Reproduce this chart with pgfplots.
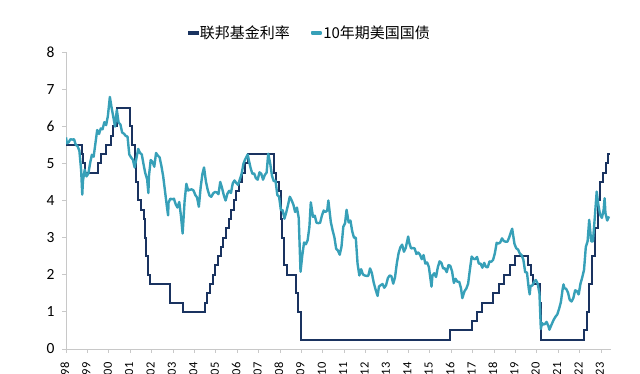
\documentclass[border=0pt]{standalone}
\usepackage{pgfplots}
\pgfplotsset{compat=1.18}
\usepackage{fontspec}
\setmainfont{Carlito}
\newfontfamily\cjk{Noto Sans CJK SC}
\definecolor{fedc}{HTML}{1A3360}
\definecolor{tsyc}{HTML}{37A0B8}
\definecolor{axc}{HTML}{C8C8C8}
\pgfplotstableread{
x y
1998.000 5.50
1998.745 5.25
1998.789 5.00
1998.877 4.75
1999.496 5.00
1999.645 5.25
1999.874 5.50
2000.088 5.75
2000.219 6.00
2000.373 6.50
2001.005 6.00
2001.083 5.50
2001.214 5.00
2001.293 4.50
2001.370 4.00
2001.488 3.75
2001.638 3.50
2001.712 3.00
2001.751 2.50
2001.849 2.00
2001.945 1.75
2002.849 1.25
2003.482 1.00
2004.496 1.25
2004.608 1.50
2004.721 1.75
2004.860 2.00
2004.951 2.25
2005.088 2.50
2005.222 2.75
2005.334 3.00
2005.493 3.25
2005.605 3.50
2005.718 3.75
2005.833 4.00
2005.948 4.25
2006.082 4.50
2006.236 4.75
2006.356 5.00
2006.493 5.25
2007.712 4.75
2007.830 4.50
2007.945 4.25
2008.058 3.50
2008.080 3.00
2008.210 2.25
2008.330 2.00
2008.770 1.50
2008.827 1.00
2008.959 0.25
2015.959 0.50
2016.951 0.75
2017.203 1.00
2017.452 1.25
2017.948 1.50
2018.219 1.75
2018.449 2.00
2018.737 2.25
2018.967 2.50
2019.581 2.25
2019.715 2.00
2019.830 1.75
2020.170 1.25
2020.205 0.25
2022.205 0.50
2022.340 1.00
2022.455 1.75
2022.570 2.50
2022.723 3.25
2022.838 4.00
2022.953 4.50
2023.085 4.75
2023.222 5.00
2023.337 5.25
2023.400 5.25
}\fed
\pgfplotstableread{
x y
1998.000 5.70
1998.042 5.54
1998.125 5.57
1998.208 5.65
1998.292 5.64
1998.375 5.65
1998.458 5.50
1998.542 5.46
1998.625 5.34
1998.708 4.81
1998.760 4.16
1998.792 4.53
1998.875 4.83
1998.958 4.65
1999.042 4.72
1999.125 5.00
1999.208 5.23
1999.292 5.18
1999.375 5.54
1999.458 5.90
1999.542 5.79
1999.625 5.94
1999.708 5.92
1999.792 6.11
1999.875 6.03
1999.958 6.28
2000.050 6.79
2000.125 6.52
2000.208 6.26
2000.292 5.99
2000.375 6.44
2000.458 6.10
2000.542 6.05
2000.625 5.83
2000.708 5.80
2000.792 5.74
2000.875 5.72
2000.958 5.24
2001.042 5.16
2001.125 5.10
2001.208 4.89
2001.292 5.14
2001.375 5.39
2001.458 5.28
2001.542 5.24
2001.625 4.97
2001.708 4.73
2001.792 4.57
2001.850 4.20
2001.875 4.65
2001.958 5.09
2002.042 5.04
2002.125 4.91
2002.208 5.28
2002.292 5.21
2002.375 5.16
2002.458 4.93
2002.542 4.65
2002.625 4.26
2002.708 3.87
2002.770 3.60
2002.792 3.94
2002.875 4.05
2002.958 4.03
2003.042 4.05
2003.125 3.90
2003.208 3.81
2003.292 3.96
2003.375 3.57
2003.450 3.11
2003.542 3.98
2003.625 4.45
2003.708 4.27
2003.792 4.29
2003.875 4.30
2003.958 4.27
2004.042 4.15
2004.125 4.08
2004.208 3.83
2004.292 4.35
2004.375 4.72
2004.450 4.89
2004.542 4.50
2004.625 4.28
2004.708 4.13
2004.792 4.10
2004.875 4.19
2004.958 4.23
2005.042 4.22
2005.125 4.17
2005.208 4.50
2005.292 4.34
2005.375 4.14
2005.458 4.00
2005.542 4.18
2005.625 4.26
2005.708 4.20
2005.792 4.46
2005.875 4.54
2005.958 4.47
2006.042 4.42
2006.125 4.57
2006.208 4.72
2006.292 4.99
2006.375 5.11
2006.490 5.24
2006.542 5.09
2006.625 4.88
2006.708 4.72
2006.792 4.73
2006.875 4.60
2006.958 4.56
2007.042 4.76
2007.125 4.72
2007.208 4.56
2007.292 4.69
2007.375 4.75
2007.450 5.26
2007.542 5.00
2007.625 4.67
2007.708 4.52
2007.792 4.53
2007.875 4.15
2007.958 4.10
2008.042 3.74
2008.125 3.74
2008.208 3.51
2008.292 3.68
2008.375 3.88
2008.458 4.10
2008.542 4.01
2008.625 3.89
2008.708 3.69
2008.792 3.81
2008.875 3.53
2008.960 2.08
2009.042 2.52
2009.125 2.87
2009.208 2.82
2009.292 2.93
2009.375 3.29
2009.440 3.95
2009.542 3.56
2009.625 3.59
2009.708 3.40
2009.792 3.39
2009.875 3.40
2009.958 3.59
2010.042 3.73
2010.125 3.69
2010.208 3.73
2010.260 4.00
2010.375 3.42
2010.458 3.20
2010.542 3.01
2010.625 2.70
2010.708 2.65
2010.792 2.54
2010.875 2.76
2010.958 3.29
2011.042 3.39
2011.110 3.75
2011.208 3.41
2011.292 3.46
2011.375 3.17
2011.458 3.00
2011.542 3.00
2011.625 2.30
2011.708 1.98
2011.792 2.15
2011.875 2.01
2011.958 1.98
2012.042 1.97
2012.125 1.97
2012.208 2.17
2012.292 2.05
2012.375 1.80
2012.458 1.62
2012.560 1.43
2012.625 1.68
2012.708 1.72
2012.792 1.75
2012.875 1.65
2012.958 1.72
2013.042 1.91
2013.125 1.98
2013.208 1.96
2013.292 1.76
2013.375 1.93
2013.458 2.30
2013.542 2.58
2013.625 2.74
2013.708 2.81
2013.792 2.62
2013.875 2.72
2013.990 3.03
2014.042 2.86
2014.125 2.71
2014.208 2.72
2014.292 2.71
2014.375 2.56
2014.458 2.60
2014.542 2.54
2014.625 2.42
2014.708 2.53
2014.792 2.30
2014.875 2.33
2014.958 2.21
2015.080 1.68
2015.125 1.98
2015.208 2.04
2015.292 1.94
2015.375 2.20
2015.458 2.36
2015.542 2.32
2015.625 2.17
2015.708 2.17
2015.792 2.07
2015.875 2.26
2015.958 2.24
2016.042 2.09
2016.125 1.78
2016.208 1.89
2016.292 1.81
2016.375 1.81
2016.458 1.64
2016.520 1.37
2016.625 1.56
2016.708 1.63
2016.792 1.76
2016.875 2.14
2016.958 2.49
2017.042 2.43
2017.125 2.42
2017.208 2.48
2017.292 2.30
2017.375 2.30
2017.458 2.19
2017.542 2.32
2017.625 2.21
2017.708 2.20
2017.792 2.36
2017.875 2.35
2017.958 2.40
2018.042 2.58
2018.125 2.86
2018.208 2.84
2018.292 2.87
2018.375 2.98
2018.458 2.91
2018.542 2.89
2018.625 2.89
2018.708 3.00
2018.792 3.15
2018.850 3.24
2018.958 2.83
2019.042 2.71
2019.125 2.68
2019.208 2.57
2019.292 2.53
2019.375 2.40
2019.458 2.07
2019.542 2.06
2019.625 1.63
2019.670 1.47
2019.708 1.70
2019.792 1.71
2019.875 1.81
2019.958 1.86
2020.042 1.76
2020.125 1.50
2020.190 0.54
2020.250 0.70
2020.292 0.66
2020.375 0.67
2020.458 0.73
2020.542 0.62
2020.590 0.52
2020.708 0.68
2020.792 0.79
2020.875 0.87
2020.958 0.93
2021.042 1.08
2021.125 1.26
2021.208 1.61
2021.250 1.74
2021.292 1.64
2021.375 1.62
2021.458 1.52
2021.542 1.32
2021.625 1.28
2021.708 1.37
2021.792 1.58
2021.875 1.56
2021.958 1.47
2022.042 1.76
2022.125 1.93
2022.208 2.13
2022.292 2.75
2022.375 2.90
2022.450 3.48
2022.542 2.90
2022.625 2.90
2022.708 3.52
2022.800 4.24
2022.875 3.89
2022.958 3.62
2023.042 3.53
2023.125 3.75
2023.170 4.06
2023.208 3.66
2023.292 3.46
2023.375 3.57
}\tsy
\begin{document}
\begin{tikzpicture}[x=1pt,y=1pt]
\useasboundingbox (0,0) rectangle (640,374);
\begin{axis}[
  at={(66pt,25pt)}, anchor=south west,
  scale only axis, width=544.6pt, height=297pt,
  xmin=1998, xmax=2023.45, ymin=0, ymax=8,
  axis x line*=bottom, axis y line*=left,
  axis line style={axc, line width=0.8pt},
  tick style={axc, line width=0.8pt},
  tick align=outside, major tick length=4pt,
  xtick={1998,...,2023}, ytick={0,...,8},
  xticklabels={98,99,00,01,02,03,04,05,06,07,08,09,10,11,12,13,14,15,16,17,18,19,20,21,22,23},
  xticklabel style={rotate=90, anchor=east, font=\fontsize{12.5}{12.5}\selectfont, text=black, xshift=-6pt, yshift=1pt},
  yticklabel style={font=\fontsize{15.5}{15.5}\selectfont, text=black, xshift=-4pt},
  /pgf/number format/assume math mode=true,
  legend style={draw=none, fill=none, at={(0.447,1.064)}, anchor=center,
    font=\cjk\fontsize{15}{15}\selectfont, legend columns=2,
    nodes={inner xsep=1pt},
    /tikz/every even column/.append style={column sep=20pt}},
  legend cell align=left,
]
\addplot[const plot, fedc, line width=2pt,
  legend image code/.code={\fill[fedc] (0pt,-1.2pt) rectangle (9pt,1.2pt);}] table[x=x,y=y]{\fed};
\addlegendentry{联邦基金利率}
\addplot[tsyc, line width=2.4pt, line join=round,
  legend image code/.code={\fill[tsyc] (0pt,-1.2pt) rectangle (9pt,1.2pt);}] table[x=x,y=y]{\tsy};
\addlegendentry{10年期美国国债}
\end{axis}
\end{tikzpicture}
\end{document}
